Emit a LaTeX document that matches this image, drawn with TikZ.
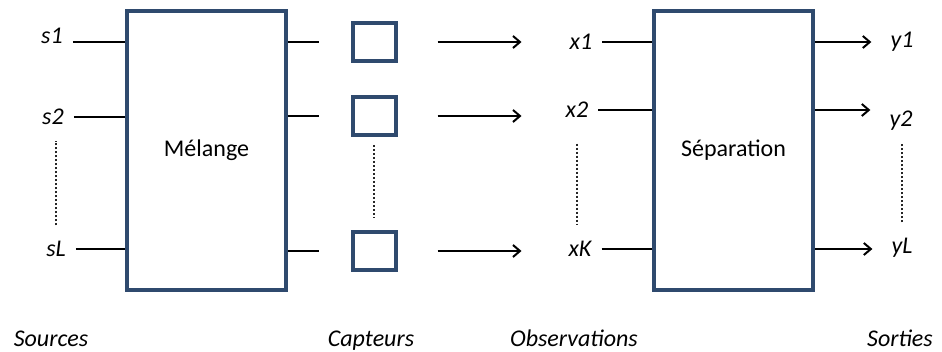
\documentclass[tikz,border=0pt]{standalone}
\usepackage{fontspec}
\setmainfont{Carlito}
\usepackage{tikz}
\usetikzlibrary{arrows.meta}
\definecolor{bleubord}{RGB}{47,74,110}
\tikzstyle{bloc}=[
        rectangle,
        draw=bleubord,
        line width=4pt,
        minimum width=159pt,
        minimum height=279pt,
        inner sep=0pt,
        font=\fontsize{24}{28}\selectfont
]
\tikzstyle{capteur}=[rectangle,draw=bleubord,line width=4pt,minimum width=43pt,minimum height=38pt,inner sep=0pt]
\tikzstyle{etiquette}=[font=\fontsize{24}{28}\selectfont\itshape,inner xsep=10pt,inner ysep=4pt,text height=19pt,text depth=4pt]
\tikzstyle{lien}=[line width=1.8pt]
\tikzstyle{fleche}=[line width=1.8pt,-{Straight Barb[length=7pt,width=12pt,line width=2pt]}]
\tikzstyle{pointille}=[line width=1.5pt,black!85,dash pattern=on 2.5pt off 1.5pt,shorten <=8pt,shorten >=8pt]

\begin{document}
\begin{tikzpicture}[x=1pt,y=-1pt]
\useasboundingbox (0,0) rectangle (942,352);
\node[bloc] (m) at (206.5,150.5) {Mélange};
\node[bloc] (sep) at (733.5,150.5) {Séparation};
\node[etiquette] (s1) at (52,36) {s1};
\node[etiquette] (s2) at (53,117) {s2};
\node[etiquette] (sL) at (56,249) {sL};
\node[capteur] (c1) at (374,42) {};
\node[capteur] (c2) at (374,116) {};
\node[capteur] (c3) at (374,251) {};
\node[etiquette] (x1) at (581,42) {x1};
\node[etiquette] (x2) at (577,110) {x2};
\node[etiquette] (xK) at (580,249) {xK};
\node[etiquette] (y1) at (902,40) {y1};
\node[etiquette] (y2) at (901,119) {y2};
\node[etiquette] (yL) at (902,246) {yL};
\node[etiquette] (sources) at (51,339) {Sources};
\node[etiquette] (capteurs) at (371,339) {Capteurs};
\node[etiquette] (observ) at (574,339) {Observations};
\node[etiquette] (sorties) at (900,339) {Sorties};
%Liaisons
\draw[lien] (s1.east |- c1) -- (c1 -| m.west);
\draw[lien] (s2) -- (s2 -| m.west);
\draw[lien] (sL) -- (sL -| m.west);
\draw[lien,shorten >=32pt] (c1 -| m.east) -- (c1);
\draw[lien,shorten >=32pt] (c2 -| m.east) -- (c2);
\draw[lien,shorten >=32pt] (c3 -| m.east) -- (c3);
\draw[fleche,shorten <=40pt,shorten >=38pt] (c1) -- (c1 -| x1.west);
\draw[fleche,shorten <=40pt,shorten >=38pt] (c2) -- (c2 -| x1.west);
\draw[fleche,shorten <=40pt,shorten >=38pt] (c3) -- (c3 -| x1.west);
\draw[lien] (x1) -- (x1 -| sep.west);
\draw[lien] (x2) -- (x2 -| sep.west);
\draw[lien] (xK) -- (xK -| sep.west);
\draw[fleche,shorten >=9pt] (sep.east |- c1) -- (y1.west |- c1);
\draw[fleche,shorten >=9pt] (sep.east |- x2) -- (y2.west |- x2);
\draw[fleche,shorten >=9pt] (sep.east |- xK) -- (yL.west |- xK);
%Pointillés
\draw[pointille] (sL.north) -- (sL.north |- s2.south);
\draw[pointille,shorten >=12pt] (c2) -- (c3);
\draw[pointille,shorten <=18pt] (x2.south) -- (x2.south |- xK.north);
\draw[pointille] (yL.north) -- (yL.north |- y2.south);
\end{tikzpicture}
\end{document}
